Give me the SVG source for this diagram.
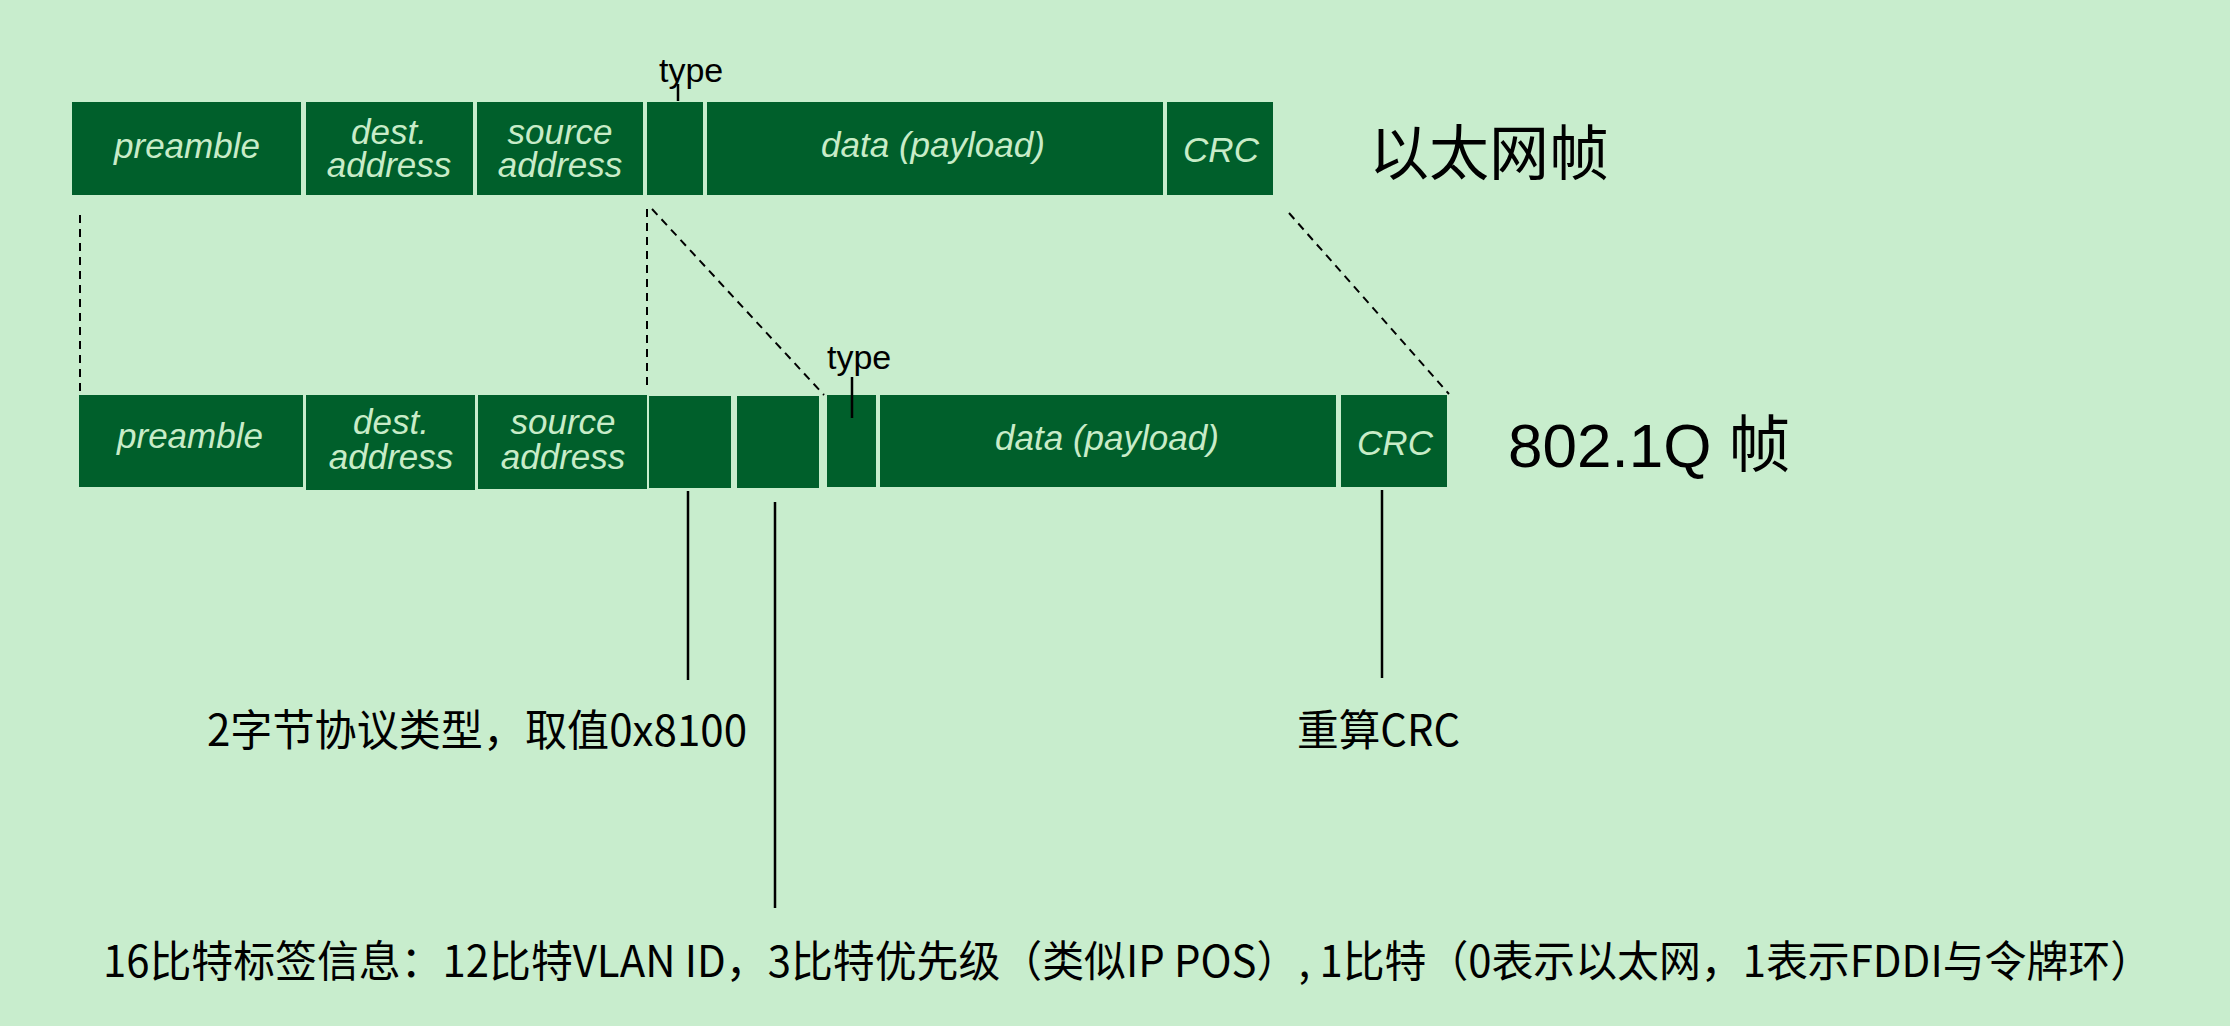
<svg xmlns="http://www.w3.org/2000/svg" width="2230" height="1026" viewBox="0 0 2230 1026">
<style>
.bx{fill:#005f2b}
.lb{font-family:"Liberation Sans",Arial,sans-serif;font-style:italic;font-size:35px;fill:#c8ecc8;text-anchor:middle}
.ty{font-family:"Liberation Sans",Arial,sans-serif;font-size:34px;fill:#000}
.cn{font-family:"Noto Sans CJK SC",sans-serif;font-size:43px;fill:#000}
.ti{font-family:"Liberation Sans","Noto Sans CJK SC",sans-serif;fill:#000}
.dash{stroke:#000;stroke-width:2;stroke-dasharray:8,6;fill:none}
.sol{stroke:#000;stroke-width:2.5;fill:none}
</style>
<rect width="2230" height="1026" fill="#c8edcd"/>

<g id="eth-frame">
  <g id="eth-preamble"><rect class="bx" x="72" y="102" width="229" height="93"/><text class="lb" x="187" y="158">preamble</text></g>
  <g id="eth-dest"><rect class="bx" x="306" y="102" width="167" height="93"/><text class="lb" x="389" y="144">dest.</text><text class="lb" x="389" y="177">address</text></g>
  <g id="eth-source"><rect class="bx" x="477" y="102" width="166" height="93"/><text class="lb" x="560" y="144">source</text><text class="lb" x="560" y="177">address</text></g>
  <g id="eth-type"><rect class="bx" x="647" y="102" width="56" height="93"/><text class="ty" x="659" y="82">type</text></g>
  <g id="eth-data"><rect class="bx" x="707" y="102" width="456" height="93"/><text class="lb" x="933" y="157">data (payload)</text></g>
  <g id="eth-crc"><rect class="bx" x="1167" y="102" width="106" height="93"/><text class="lb" x="1221" y="162">CRC</text></g>
  <text class="ti" x="1369" y="175" font-size="60">以太网帧</text>
</g>

<g id="q-frame">
  <g id="q-preamble"><rect class="bx" x="79" y="395" width="224" height="92"/><text class="lb" x="190" y="448">preamble</text></g>
  <g id="q-dest"><rect class="bx" x="306" y="395" width="169" height="95"/><text class="lb" x="391" y="434">dest.</text><text class="lb" x="391" y="469">address</text></g>
  <g id="q-source"><rect class="bx" x="478" y="395" width="169" height="94"/><text class="lb" x="563" y="434">source</text><text class="lb" x="563" y="469">address</text></g>
  <g id="q-tpid"><rect class="bx" x="649" y="396" width="82" height="92"/></g>
  <g id="q-tci"><rect class="bx" x="737" y="396" width="82" height="92"/></g>
  <g id="q-type"><rect class="bx" x="827" y="395" width="49" height="92"/><text class="ty" x="827" y="369">type</text></g>
  <g id="q-data"><rect class="bx" x="880" y="395" width="456" height="92"/><text class="lb" x="1107" y="450">data (payload)</text></g>
  <g id="q-crc"><rect class="bx" x="1341" y="395" width="106" height="92"/><text class="lb" x="1395" y="455">CRC</text></g>
  <text class="ti" x="1508" y="467" font-size="62">802.1Q 帧</text>
</g>

<g id="note-tpid"><text class="cn" x="207" y="746" textLength="540" lengthAdjust="spacingAndGlyphs">2字节协议类型，取值0x8100</text></g>
<g id="note-crc"><text class="cn" x="1297" y="746" textLength="163" lengthAdjust="spacingAndGlyphs">重算CRC</text></g>
<g id="note-tci"><text class="cn" x="103" y="977" textLength="2049" lengthAdjust="spacingAndGlyphs">16比特标签信息：12比特VLAN ID，3比特优先级（类似IP POS）, 1比特（0表示以太网，1表示FDDI与令牌环）</text></g>

<g id="connectors">
  <line class="dash" x1="80" y1="215" x2="80" y2="393"/>
  <line class="dash" x1="647" y1="209" x2="647" y2="390"/>
  <line class="dash" x1="652" y1="209" x2="824" y2="395"/>
  <line class="dash" x1="1289" y1="213" x2="1449" y2="394"/>
  <line class="sol" x1="678" y1="84" x2="678" y2="101"/>
  <line class="sol" x1="852" y1="377" x2="852" y2="418"/>
  <line class="sol" x1="688" y1="491" x2="688" y2="680"/>
  <line class="sol" x1="775" y1="502" x2="775" y2="908"/>
  <line class="sol" x1="1382" y1="490" x2="1382" y2="678"/>
</g>
</svg>
